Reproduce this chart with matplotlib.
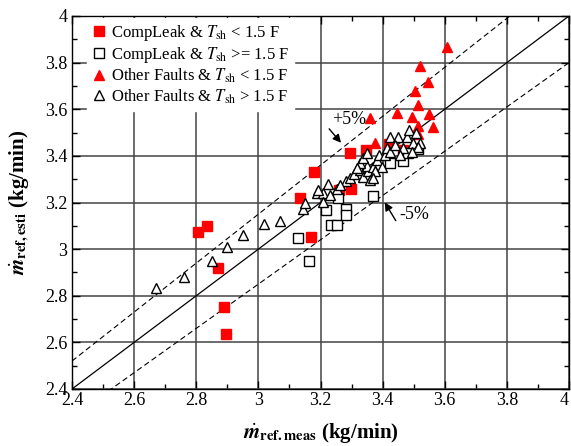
import numpy as np
import matplotlib
matplotlib.use('Agg')
import matplotlib.pyplot as plt
from matplotlib.ticker import MultipleLocator, FuncFormatter

plt.rcParams['font.family'] = ['Liberation Serif', 'DejaVu Serif']
plt.rcParams['mathtext.fontset'] = 'stix'

# CompLeak & Tsh < 1.5 F (red squares)
cl_low_x = [2.806, 2.835, 2.870, 2.889, 2.896, 3.134, 3.169, 3.179, 3.260, 3.298, 3.295, 3.347, 3.421, 3.466]
cl_low_y = [3.074, 3.100, 2.919, 2.752, 2.636, 3.220, 3.052, 3.331, 3.254, 3.258, 3.413, 3.426, 3.452, 3.426]

# CompLeak & Tsh >= 1.5 F (open squares)
cl_high_x = [3.128, 3.163, 3.218, 3.234, 3.253, 3.256, 3.282, 3.282, 3.369, 3.424, 3.466, 3.482, 3.514]
cl_high_y = [3.048, 2.949, 3.168, 3.104, 3.104, 3.220, 3.173, 3.147, 3.228, 3.370, 3.379, 3.413, 3.430]

# Other faults & Tsh < 1.5 F (red triangles)
of_low_x = [3.607, 3.520, 3.546, 3.504, 3.514, 3.446, 3.495, 3.549, 3.514, 3.562, 3.359, 3.376, 3.514]
of_low_y = [3.868, 3.786, 3.718, 3.679, 3.619, 3.585, 3.567, 3.580, 3.529, 3.524, 3.563, 3.456, 3.494]

# Other faults & Tsh > 1.5 F (open triangles)
of_high_x = [2.669, 2.761, 2.850, 2.900, 2.952, 3.018, 3.071, 3.145, 3.150, 3.188,
             3.209, 3.209, 3.223, 3.193, 3.252, 3.281, 3.295, 3.309, 3.327, 3.338,
             3.354, 3.351, 3.370, 3.381, 3.397, 3.389, 3.408, 3.413, 3.424, 3.451,
             3.478, 3.486, 3.499, 3.507, 3.520, 3.513, 3.327, 3.338, 3.349, 3.359,
             3.376, 3.370, 3.467, 3.424, 3.494, 3.263, 3.231, 3.317, 3.440, 3.456]
of_high_y = [2.832, 2.882, 2.951, 3.008, 3.061, 3.108, 3.121, 3.173, 3.200, 3.242,
             3.242, 3.204, 3.280, 3.254, 3.258, 3.293, 3.306, 3.321, 3.340, 3.311,
             3.333, 3.357, 3.354, 3.383, 3.354, 3.403, 3.404, 3.433, 3.482, 3.480,
             3.483, 3.512, 3.454, 3.497, 3.454, 3.440, 3.369, 3.390, 3.412, 3.297,
             3.333, 3.304, 3.433, 3.418, 3.418, 3.276, 3.233, 3.347, 3.447, 3.404]

lims = [2.4, 4.0]
band = 0.05

fig = plt.figure(figsize=(5.71, 4.46), dpi=100)
ax = fig.add_axes([72/571, 1-389/446, 497/571, 373/446])

ax.grid(True, which='major', color='#444444', lw=1.1)
ax.set_axisbelow(True)

line_x = np.array(lims)
ax.plot(line_x, line_x, color='k', lw=0.9)
ax.plot(line_x, line_x*(1+band), color='k', lw=0.8, ls=(0, (5, 3)))
ax.plot(line_x, line_x*(1-band), color='k', lw=0.8, ls=(0, (5, 3)))

ax.plot(cl_low_x, cl_low_y, 's', color='red', ms=7, mec='red', ls='none',
        label=r'CompLeak & $T_{\rm sh}$ < 1.5 F')
ax.plot(cl_high_x, cl_high_y, 's', mfc='white', mec='k', ms=7, mew=1, ls='none',
        label=r'CompLeak & $T_{\rm sh}$ >= 1.5 F')
ax.plot(of_low_x, of_low_y, '^', color='red', ms=7.5, mec='red', ls='none',
        label=r'Other Faults & $T_{\rm sh}$ < 1.5 F')
ax.plot(of_high_x, of_high_y, '^', mfc='white', mec='k', ms=7.5, mew=1, ls='none',
        label=r'Other Faults & $T_{\rm sh}$ > 1.5 F')

ax.annotate('', xy=(3.272, 3.447), xytext=(3.222, 3.525),
            arrowprops=dict(arrowstyle='-|>', color='k', lw=1, mutation_scale=12))
ax.text(3.236, 3.555, '+5%', fontsize=13, va='center', ha='left')
ax.annotate('', xy=(3.402, 3.211), xytext=(3.447, 3.112),
            arrowprops=dict(arrowstyle='-|>', color='k', lw=1, mutation_scale=12))
ax.text(3.454, 3.147, '-5%', fontsize=13, va='center', ha='left')

ax.set_xlim(lims)
ax.set_ylim(lims)
fmt = FuncFormatter(lambda v, p: '%g' % round(v, 1))
for axis in (ax.xaxis, ax.yaxis):
    axis.set_major_locator(MultipleLocator(0.2))
    axis.set_minor_locator(MultipleLocator(0.1))
    axis.set_major_formatter(fmt)
ax.tick_params(which='both', direction='in', top=True, right=True, labelsize=13)
ax.tick_params(which='major', length=6, width=1)
ax.tick_params(which='minor', length=3.5, width=1)
ax.tick_params(axis='x', pad=2)
for s in ax.spines.values():
    s.set_linewidth(1)

ax.set_xlabel(r'$\dot{\mathbfit{m}}_{\mathbf{ref.meas}}$ (kg/min)', fontsize=15,
              fontweight='bold', labelpad=9)
ax.set_ylabel(r'$\dot{\mathbfit{m}}_{\mathbf{ref,esti}}$ (kg/min)', fontsize=15,
              fontweight='bold', labelpad=9)

leg = ax.legend(loc='upper left', bbox_to_anchor=(0.03, 0.995), borderaxespad=0,
                fontsize=12, frameon=True, fancybox=False,
                edgecolor='white', framealpha=1, handlelength=0.8, handletextpad=0.35,
                labelspacing=0.12, borderpad=0.3)

fig.canvas.draw()
for tick in ax.xaxis.get_major_ticks():
    if abs(tick.get_loc() - lims[1]) < 1e-6:
        tick.label1.set_horizontalalignment('right')

fig.savefig('out.png', dpi=100)
